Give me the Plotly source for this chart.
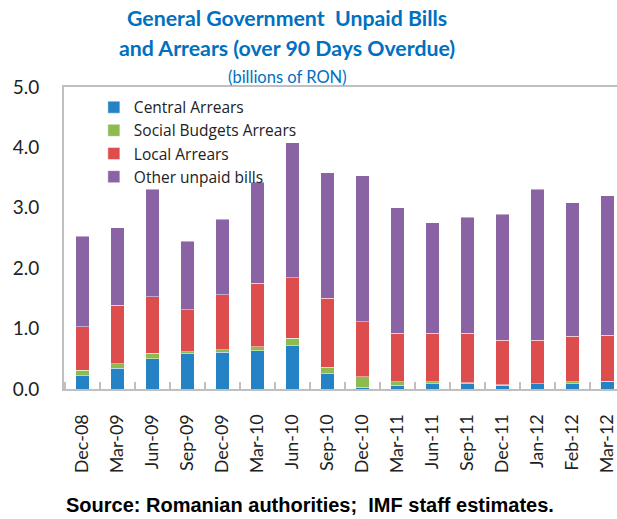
import plotly.graph_objects as go

categories = ["Dec-08", "Mar-09", "Jun-09", "Sep-09", "Dec-09", "Mar-10", "Jun-10", "Sep-10",
              "Dec-10", "Mar-11", "Jun-11", "Sep-11", "Dec-11", "Jan-12", "Feb-12", "Mar-12"]
central = [0.22, 0.34, 0.50, 0.58, 0.61, 0.63, 0.72, 0.25, 0.03, 0.06, 0.09, 0.09, 0.06, 0.09, 0.09, 0.12]
social = [0.09, 0.08, 0.09, 0.04, 0.04, 0.07, 0.12, 0.11, 0.17, 0.06, 0.03, 0.01, 0.01, 0.00, 0.03, 0.01]
local = [0.72, 0.97, 0.94, 0.69, 0.91, 1.05, 1.00, 1.14, 0.91, 0.80, 0.80, 0.82, 0.74, 0.72, 0.75, 0.76]
other = [1.50, 1.28, 1.78, 1.14, 1.25, 1.67, 2.24, 2.08, 2.42, 2.08, 1.83, 1.92, 2.08, 2.50, 2.21, 2.31]
y_ticks = [0, 1, 2, 3, 4, 5]
y_tick_labels = ["0.0", "1.0", "2.0", "3.0", "4.0", "5.0"]

series = [
    ("Central Arrears", central, "#2482C5"),
    ("Social Budgets Arrears", social, "#8DBB50"),
    ("Local Arrears", local, "#DD4D4D"),
    ("Other unpaid bills", other, "#8A63A4"),
]

fig = go.Figure()
for name, vals, color in series:
    fig.add_trace(go.Bar(
        x=categories, y=vals, name=name,
        marker=dict(color=color, line=dict(color="rgba(255,255,255,0.45)", width=1)),
        width=0.39,
    ))

plot_l, plot_r, plot_t, plot_b = 64, 617, 87, 389

fig.update_layout(
    width=617, height=519,
    barmode="stack",
    paper_bgcolor="white", plot_bgcolor="white",
    margin=dict(l=plot_l, r=617 - plot_r, t=plot_t, b=519 - plot_b, autoexpand=False),
    font=dict(family="Lato, sans-serif", color="#222222"),
    showlegend=True,
    legend=dict(
        x=0.054, y=0.988, xanchor="left", yanchor="top",
        traceorder="normal", bgcolor="rgba(0,0,0,0)",
        font=dict(size=15.5, family="Open Sans, sans-serif", color="#222222"),
        tracegroupgap=0, itemclick=False,
    ),
    xaxis=dict(
        type="category", range=[-0.53, 15.27],
        showline=True, linecolor="#BFBFBF", linewidth=2, mirror=True,
        ticks="inside", tickson="boundaries", ticklen=7, tickcolor="#BFBFBF", tickwidth=1.5,
        tickangle=-90, tickfont=dict(size=18, family="Lato, sans-serif", color="#222222"),
        ticklabelstandoff=16, showgrid=False,
    ),
    yaxis=dict(
        range=[0, 5], tickvals=y_ticks, ticktext=y_tick_labels,
        showline=True, linecolor="#BFBFBF", linewidth=2,
        ticks="outside", ticklen=19, tickcolor="rgba(0,0,0,0)",
        showgrid=False, zeroline=False,
        tickfont=dict(size=19, family="Lato, sans-serif", color="#222222"),
    ),
)

texts = [
    ("<b>General Government  Unpaid Bills</b>", 287, 18, dict(size=21.3, color="#0070C0", family="Lato, sans-serif")),
    ("<b>and Arrears (over 90 Days Overdue)</b>", 287, 48, dict(size=21.3, color="#0070C0", family="Lato, sans-serif")),
    ("(billions of RON)", 287, 77, dict(size=16.5, color="#0070C0", family="Lato, sans-serif")),
    ("<b>Source: Romanian authorities;  IMF staff estimates.</b>", 310, 505,
     dict(size=20, color="#000000", family="Liberation Sans, Arial, sans-serif")),
]
anns = []
for text, px, py, st in texts:
    anns.append(dict(
        text=text, showarrow=False, xref="paper", yref="paper",
        x=(px - plot_l) / (plot_r - plot_l), y=(plot_b - py) / (plot_b - plot_t),
        xanchor="center", yanchor="middle", font=st,
    ))
fig.update_layout(annotations=anns)

fig.write_html("out.html", config={"displayModeBar": False},
               post_script="document.body.style.margin='0';")
